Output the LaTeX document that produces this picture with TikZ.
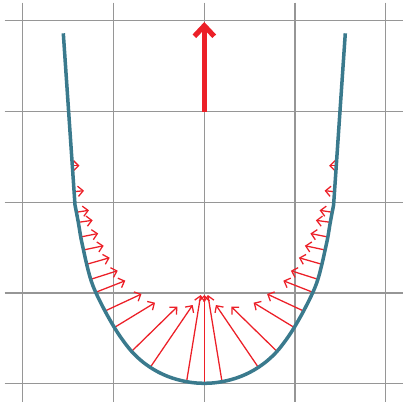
\documentclass[tikz,border=0pt]{standalone}
\usetikzlibrary{arrows.meta}
\definecolor{wallc}{RGB}{58,122,141}
\definecolor{forcec}{RGB}{236,32,40}
\definecolor{gridc}{RGB}{150,150,150}
\begin{document}
\begin{tikzpicture}[x=0.011019cm,y=-0.011019cm,
  gridline/.style={draw=gridc,line width=0.35pt},
  force/.style={draw=forcec,line width=0.4pt,-{Straight Barb[length=1.6pt,width=3.2pt]}},
  bigforce/.style={draw=forcec,line width=1.6pt,-{Straight Barb[length=3.3pt,width=6.2pt]}},
  wall/.style={draw=wallc,line width=1.1pt,line join=round}]
\useasboundingbox (0,0) rectangle (403,403);
% grid
\foreach \gx in {22.8,113.55,204.3,295.05,385.8}
  \draw[gridline] (\gx,2.6) -- (\gx,402);
\foreach \gy in {20.75,111.5,202.25,293,383.75}
  \draw[gridline] (4.6,\gy) -- (403,\gy);
% pressure forces (left side and its mirror image)
\foreach \xa/\ya/\xb/\yb in {
  72/165.7/79.5/165.7,
  74/191.7/84/190.7,
  76/212.3/89/210.3,
  78.3/222.3/92.7/220.3,
  80.7/237/98.2/233.5,
  83.4/250/103.7/245.7,
  86.7/264.3/109.7/257.7,
  90.7/279.3/117.7/270.7,
  95.7/292.3/125.3/280.7,
  105/311/141.5/294,
  114/327.7/155/302.7,
  132.3/350.7/177.3/306.7,
  150.7/366.7/192.7/305,
  186.7/381/200.7/295}
{
  \draw[force] (\xa,\ya) -- (\xb,\yb);
  \draw[force] ({408.6-\xa},\ya) -- ({408.6-\xb},\yb);
}
\draw[force] (204.3,383.3) -- (204.3,295);
% vessel wall
\draw[wall] (63.3,33.3) -- plot[smooth,tension=0.6] coordinates {
  (75,205) (78.3,222.3) (80.8,237.3) (83.5,250) (86.7,264.3) (90.7,279.3)
  (95.7,292.3) (105,311) (114.5,327.7) (122.8,340.2) (131.7,351.5)
  (140.8,360.3) (149.85,367.1) (158.9,372.4) (168,376.5) (177.1,379.5)
  (186.15,381.6) (195.2,382.9) (204.3,383.3)
  (213.4,382.9) (222.45,381.6) (231.5,379.5) (240.6,376.5) (249.7,372.4)
  (258.75,367.1) (267.8,360.3) (276.9,351.5) (285.8,340.2) (294.1,327.7)
  (303.6,311) (312.9,292.3) (317.9,279.3) (321.9,264.3) (325.1,250)
  (327.8,237.3) (330.3,222.3) (333.6,205)} -- (345.3,33.3);
% resultant force
\draw[bigforce] (204.3,111.5) -- (204.3,22);
\end{tikzpicture}
\end{document}
